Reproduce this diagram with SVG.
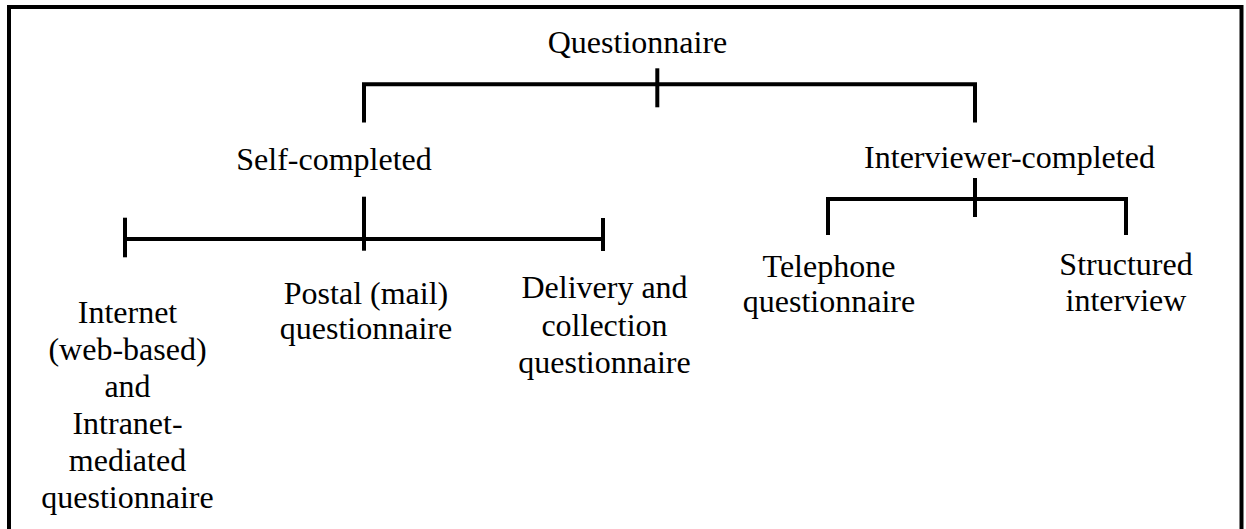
<svg xmlns="http://www.w3.org/2000/svg" width="1246" height="529" viewBox="0 0 1246 529">
<style>
text{font-family:"Liberation Serif","Times New Roman",serif;font-size:32px;fill:#000;text-anchor:middle}
.ln{stroke:#000;stroke-width:4;fill:none;stroke-linecap:butt}
</style>
<rect x="0" y="0" width="1246" height="529" fill="#fff"/>
<rect x="9" y="7" width="1232.5" height="560" fill="none" stroke="#000" stroke-width="4"/>
<g id="connectors" class="ln">
<path d="M364,122.5 V84.3 H975 V122.5"/>
<path d="M657.3,68.3 V107.3"/>
<path d="M364,196.7 V250.7"/>
<path d="M125,239 H603"/>
<path d="M125,217.7 V257.3"/>
<path d="M603,218 V251"/>
<path d="M975,178 V217"/>
<path d="M828,235 V199 H1126 V235"/>
</g>
<g id="questionnaire"><text x="637.5" y="53">Questionnaire</text></g>
<g id="self-completed"><text x="334" y="170">Self-completed</text></g>
<g id="interviewer-completed"><text x="1009.5" y="168">Interviewer-completed</text></g>
<g id="internet"><text x="127.5" y="323">Internet</text><text x="127.5" y="360">(web-based)</text><text x="127.5" y="397">and</text><text x="127.5" y="434">Intranet-</text><text x="127.5" y="471">mediated</text><text x="127.5" y="508">questionnaire</text></g>
<g id="postal"><text x="366" y="304">Postal (mail)</text><text x="366" y="339">questionnaire</text></g>
<g id="delivery"><text x="604.5" y="298">Delivery and</text><text x="604.5" y="335.5">collection</text><text x="604.5" y="373">questionnaire</text></g>
<g id="telephone"><text x="829" y="277">Telephone</text><text x="829" y="312">questionnaire</text></g>
<g id="structured"><text x="1126" y="274.5">Structured</text><text x="1126" y="311">interview</text></g>
</svg>
